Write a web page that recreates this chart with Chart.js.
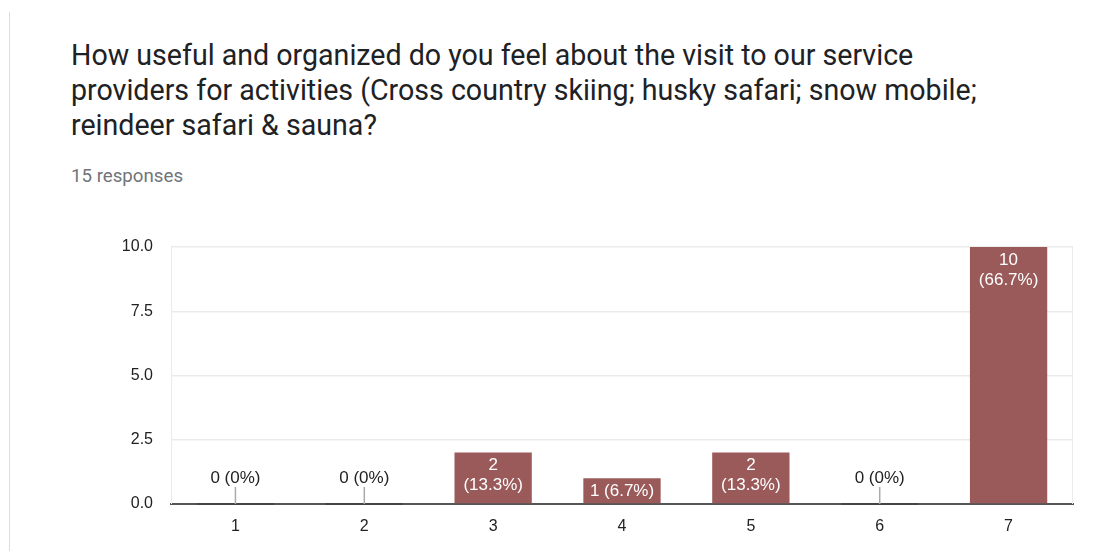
<!DOCTYPE html>
<html>
<head>
<meta charset="utf-8">
<script src="https://cdn.jsdelivr.net/npm/chart.js@4/dist/chart.umd.min.js"></script>
<style>
    html, body { margin: 0; padding: 0; background: #fff; }
    body { width: 1118px; height: 551px; position: relative; overflow: hidden; }
    .card-edge { position: absolute; left: 9px; top: 12px; width: 1px; height: 539px; background: #dadce0; }
    .title {
        position: absolute; left: 71px; top: 38px;
        font-family: Roboto, sans-serif; font-size: 28.6px; line-height: 35px; color: #202124;
        white-space: nowrap;
    }
    .responses {
        position: absolute; left: 71px; top: 165px;
        font-family: Roboto, sans-serif; font-size: 18.7px; line-height: 22px; color: #70757a;
    }
    #chartBox { position: absolute; left: 0; top: 0; width: 1118px; height: 551px; }
</style>
</head>
<body>
<div class="card-edge"></div>
<div class="title">How useful and organized do you feel about the visit to our service<br>providers for activities (Cross country skiing; husky safari; snow mobile;<br>reindeer safari &amp; sauna?</div>
<div class="responses">15 responses</div>
<div id="chartBox"><canvas id="myChart"></canvas></div>

<script>
const categories = ['1', '2', '3', '4', '5', '6', '7'];
const counts = [0, 0, 2, 1, 2, 0, 10];
const percents = ['0%', '0%', '13.3%', '6.7%', '13.3%', '0%', '66.7%'];
const yTicks = [0, 2.5, 5, 7.5, 10];

const barColor = '#9a5a5a';
const labelFont = '17px "Liberation Sans", Arial, sans-serif';

// draws the count / percent text on every bar, like the forms summary
const barLabels = {
    id: 'barLabels',
    afterDatasetsDraw(chart) {
        const ctx = chart.ctx;
        const meta = chart.getDatasetMeta(0);
        ctx.save();
        ctx.font = labelFont;
        ctx.textAlign = 'center';
        ctx.textBaseline = 'middle';
        meta.data.forEach((bar, i) => {
            const value = counts[i];
            const pct = percents[i];
            if (value === 0) {
                // dark stub on the baseline + leader line up to the label
                ctx.fillStyle = '#444';
                ctx.fillRect(bar.x - bar.width / 2, bar.base - 1, bar.width, 2);
                ctx.strokeStyle = '#aaa';
                ctx.lineWidth = 1.5;
                ctx.beginPath();
                ctx.moveTo(bar.x, bar.base - 17);
                ctx.lineTo(bar.x, bar.base);
                ctx.stroke();
                ctx.fillStyle = '#222';
                ctx.fillText(value + ' (' + pct + ')', bar.x, bar.base - 26);
                return;
            }
            ctx.fillStyle = '#fff';
            const h = bar.base - bar.y;
            if (h < 40) {
                ctx.fillText(value + ' (' + pct + ')', bar.x, bar.y + 13);
            } else {
                ctx.fillText(String(value), bar.x, bar.y + 13);
                ctx.fillText('(' + pct + ')', bar.x, bar.y + 33);
            }
        });
        ctx.restore();
    }
};

// light frame on left/right of the plot area
const plotFrame = {
    id: 'plotFrame',
    beforeDatasetsDraw(chart) {
        const { ctx, chartArea } = chart;
        ctx.save();
        ctx.strokeStyle = '#ebebeb';
        ctx.lineWidth = 1;
        ctx.beginPath();
        ctx.moveTo(chartArea.left + 0.5, chartArea.top);
        ctx.lineTo(chartArea.left + 0.5, chartArea.bottom);
        ctx.moveTo(chartArea.right - 0.5, chartArea.top);
        ctx.lineTo(chartArea.right - 0.5, chartArea.bottom);
        ctx.stroke();
        ctx.restore();
    }
};

const ctx = document.getElementById('myChart').getContext('2d');
const myChart = new Chart(ctx, {
    type: 'bar',
    data: {
        labels: categories,
        datasets: [
            {
                label: 'Responses',
                data: counts,
                backgroundColor: barColor,
                borderWidth: 0,
                barPercentage: 0.6,
                categoryPercentage: 1
            }
        ]
    },
    options: {
        responsive: true,
        maintainAspectRatio: false,
        animation: false,
        layout: {
            padding: { left: 100, right: 45, top: 247, bottom: 17 }
        },
        plugins: {
            legend: { display: false },
            tooltip: { enabled: false }
        },
        scales: {
            x: {
                grid: { display: false, drawTicks: false },
                border: { display: true, color: '#555', width: 2 },
                ticks: {
                    color: '#222',
                    padding: 13,
                    font: { family: '"Liberation Sans", Arial, sans-serif', size: 16 }
                },
                afterFit: function (scale) { scale.height = 30; }
            },
            y: {
                min: 0,
                max: 10,
                afterBuildTicks: function (scale) {
                    scale.ticks = yTicks.map(v => ({ value: v }));
                },
                grid: { color: '#ebebeb', lineWidth: 1.5, drawTicks: false },
                border: { display: false },
                ticks: {
                    color: '#222',
                    padding: 18,
                    font: { family: '"Liberation Sans", Arial, sans-serif', size: 16 },
                    callback: function (value) { return Number(value).toFixed(1); }
                },
                afterFit: function (scale) { scale.width = 71; }
            }
        }
    },
    plugins: [plotFrame, barLabels]
});
</script>
</body>
</html>
